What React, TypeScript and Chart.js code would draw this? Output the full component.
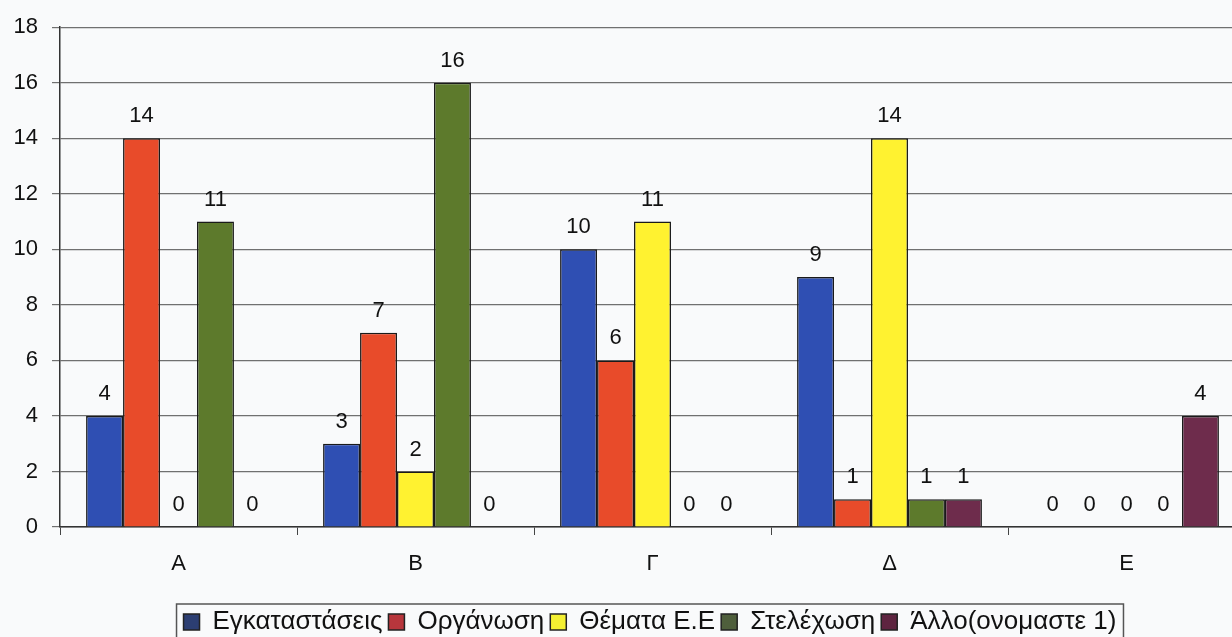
import React, { useEffect, useRef } from "react";
import { Chart, registerables } from "chart.js";

Chart.register(...registerables);

const categories = ["A", "B", "Γ", "Δ", "E"];
const seriesNames = ["Εγκαταστάσεις", "Οργάνωση", "Θέματα Ε.Ε", "Στελέχωση", "Άλλο(ονομαστε 1)"];
const egkatastaseis = [4, 3, 10, 9, 0];
const organosi = [14, 7, 6, 1, 0];
const themata = [0, 2, 11, 14, 0];
const stelexosi = [11, 16, 0, 1, 0];
const allo = [0, 0, 0, 1, 4];
const yTicks = [0, 2, 4, 6, 8, 10, 12, 14, 16, 18];

const barColors = ["#2F4FB3", "#E84B2A", "#FFF230", "#5D7A2C", "#6E2C4C"];
const legendColors = ["#2C3E72", "#B8363C", "#F4F032", "#4F5F3C", "#5E2440"];

const FONT = "'Liberation Sans', Arial, sans-serif";

const valueLabels = {
  id: "valueLabels",
  afterDatasetsDraw(chart: any) {
    const ctx = chart.ctx;
    ctx.save();
    ctx.font = `22px ${FONT}`;
    ctx.fillStyle = "#111";
    ctx.textAlign = "center";
    ctx.textBaseline = "bottom";
    chart.data.datasets.forEach((ds: any, i: number) => {
      const meta = chart.getDatasetMeta(i);
      meta.data.forEach((el: any, j: number) => {
        ctx.fillText(String(ds.data[j]), el.x, el.y - 11);
      });
    });
    ctx.restore();
  },
};

const legendBox = {
  id: "legendBox",
  afterDraw(chart: any) {
    const lg = chart.legend;
    if (!lg || !lg.legendHitBoxes || !lg.legendHitBoxes.length) return;
    const boxes = lg.legendHitBoxes;
    let l = Infinity, r = -Infinity;
    boxes.forEach((b: any) => {
      l = Math.min(l, b.left);
      r = Math.max(r, b.left + b.width);
    });
    const ctx = chart.ctx;
    ctx.save();
    ctx.strokeStyle = "#555";
    ctx.lineWidth = 1.5;
    const top = boxes[0].top - 5;
    ctx.strokeRect(l - 7, top, r - l + 14, 60);
    ctx.restore();
  },
};

export default function App() {
  const ref = useRef<HTMLCanvasElement>(null);
  useEffect(() => {
    if (!ref.current) return;
    const all = [egkatastaseis, organosi, themata, stelexosi, allo];
    const chart = new Chart(ref.current, {
      type: "bar",
      data: {
        labels: categories,
        datasets: all.map((d, i) => ({
          label: seriesNames[i],
          data: d,
          backgroundColor: barColors[i],
          borderColor: "#1a1a1a",
          borderWidth: 1.5,
          barPercentage: 1,
          categoryPercentage: 0.78,
        })),
      },
      options: {
        responsive: false,
        animation: false,
        devicePixelRatio: 1,
        layout: { padding: { left: 0, right: 0, top: 18, bottom: 0 } },
        plugins: {
          tooltip: { enabled: false },
          legend: {
            position: "bottom",
            labels: {
              font: { family: FONT, size: 26 },
              color: "#111",
              boxWidth: 16,
              boxHeight: 16,
              padding: 6,
              generateLabels(chart: any) {
                const items = Chart.defaults.plugins.legend.labels.generateLabels(chart);
                return items.map((it: any, i: number) => ({
                  ...it,
                  fillStyle: legendColors[i],
                  strokeStyle: "#222",
                  lineWidth: 1.5,
                }));
              },
            },
          },
        },
        scales: {
          x: {
            grid: { drawOnChartArea: false, tickLength: 8, color: "#444", offset: true },
            border: { color: "#333", width: 1.5 },
            ticks: { font: { family: FONT, size: 22 }, color: "#111", padding: 16 },
            afterFit(scale: any) {
              scale.height = 76;
            },
          },
          y: {
            min: 0,
            max: 18,
            afterBuildTicks(scale: any) {
              scale.ticks = yTicks.map((v) => ({ value: v }));
            },
            grid: { color: "#707070", tickLength: 8, lineWidth: 1.2 },
            border: { color: "#333", width: 1.5 },
            ticks: { font: { family: FONT, size: 22 }, color: "#111", padding: 14 },
            afterFit(scale: any) {
              scale.width = 60;
            },
          },
          yRight: {
            position: "right",
            min: 0,
            max: 18,
            grid: { drawOnChartArea: false, drawTicks: false },
            border: { display: false },
            ticks: { display: false },
            afterFit(scale: any) {
              scale.width = 55;
            },
          },
        },
      },
      plugins: [valueLabels, legendBox],
    });
    return () => chart.destroy();
  }, []);
  return (
    <div
      style={{
        position: "absolute",
        left: 0,
        top: 0,
        width: 1232,
        height: 637,
        overflow: "hidden",
        background: "#F9FAFB",
      }}
    >
      <canvas ref={ref} width={1300} height={645} style={{ display: "block" }} />
    </div>
  );
}
